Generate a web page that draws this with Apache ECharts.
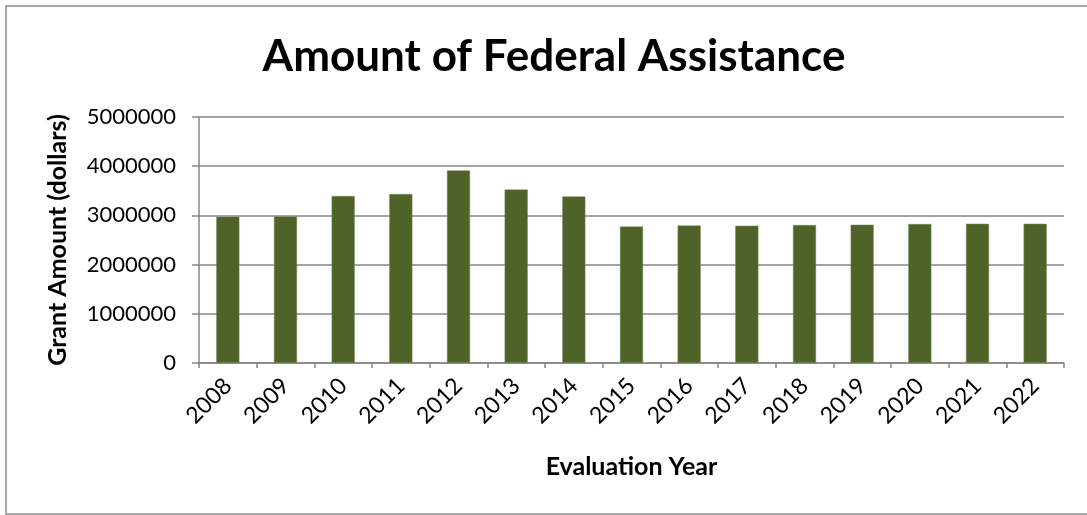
<!DOCTYPE html>
<html>
<head>
<meta charset="utf-8">
<script src="https://cdn.jsdelivr.net/npm/echarts@6/dist/echarts.min.js"></script>
<style>
html,body{margin:0;padding:0;background:#fff;}
#chart{width:1087px;height:515px;}
</style>
</head>
<body>
<div id="chart"></div>
<script>
const years = ['2008','2009','2010','2011','2012','2013','2014','2015','2016','2017','2018','2019','2020','2021','2022'];
const grantAmounts = [2975000, 2980000, 3395000, 3435000, 3915000, 3525000, 3385000, 2775000, 2795000, 2790000, 2805000, 2810000, 2825000, 2830000, 2830000];
const chartTitle = 'Amount of Federal Assistance';
const xAxisTitle = 'Evaluation Year';
const yAxisTitle = 'Grant Amount (dollars)';

const FONT = 'Lato, "Open Sans", sans-serif';
const chart = echarts.init(document.getElementById('chart'), null, {renderer: 'canvas'});
chart.setOption({
  backgroundColor: '#ffffff',
  animation: false,
  graphic: [{
    type: 'rect', silent: true, z: 0,
    shape: {x: 6, y: 6, width: 1095, height: 508},
    style: {fill: 'none', stroke: '#8c8c8c', lineWidth: 1.5}
  }],
  title: {
    text: chartTitle, left: 549, top: 30, textAlign: 'center',
    textStyle: {fontFamily: FONT, fontWeight: 'bold', fontSize: 44, color: '#000'}
  },
  grid: {left: 199, right: 23, top: 117, bottom: 152, containLabel: false},
  xAxis: {
    type: 'category', data: years,
    name: xAxisTitle, nameLocation: 'middle', nameGap: 91,
    nameTextStyle: {fontFamily: FONT, fontWeight: 'bold', fontSize: 25, color: '#000'},
    axisLine: {lineStyle: {color: '#868686', width: 1.5}},
    axisTick: {show: true, length: 5, lineStyle: {color: '#868686', width: 1.5}},
    axisLabel: {rotate: 45, margin: 19, fontFamily: FONT, fontSize: 23, color: '#000', interval: 0}
  },
  yAxis: {
    type: 'value', min: 0, max: 5000000, interval: 1000000,
    name: yAxisTitle, nameLocation: 'middle', nameGap: 129, nameRotate: 90,
    nameTextStyle: {fontFamily: FONT, fontWeight: 'bold', fontSize: 25, color: '#000'},
    axisLine: {show: true, lineStyle: {color: '#868686', width: 1.5}},
    axisTick: {show: true, length: 7, lineStyle: {color: '#868686', width: 1.5}},
    axisLabel: {margin: 23, fontFamily: FONT, fontSize: 22, color: '#000', formatter: v => String(v)},
    splitLine: {lineStyle: {color: '#868686', width: 1.5}}
  },
  series: [{
    type: 'bar', data: grantAmounts, barWidth: '40%',
    itemStyle: {color: '#4F6228', borderColor: '#7a8a5c', borderWidth: 0.5}
  }]
});
</script>
</body>
</html>
